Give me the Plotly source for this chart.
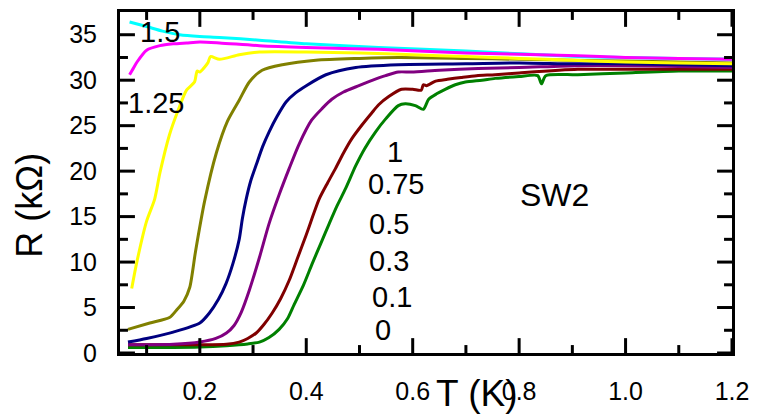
import plotly.graph_objects as go

# ---- data ----
T_0 = [0.065, 0.1, 0.15, 0.2, 0.25, 0.29, 0.312, 0.33, 0.349, 0.365, 0.377, 0.395, 0.411, 0.427, 0.443,
       0.458, 0.474, 0.493, 0.51, 0.53, 0.55, 0.573, 0.586, 0.605, 0.62, 0.63, 0.645, 0.661, 0.68, 0.699,
       0.73, 0.755, 0.8, 0.835, 0.842, 0.85, 0.91, 1.0, 1.1, 1.2]
R_0 = [0.6, 0.6, 0.6, 0.65, 0.8, 1.0, 1.2, 1.7, 2.6, 3.8, 5.3, 7.5, 9.8, 12.0, 14.2,
       16.2, 18.1, 20.6, 22.5, 24.3, 25.8, 27.2, 27.4, 27.2, 26.8, 27.9, 28.5, 29.0, 29.5, 29.8,
       30.0, 30.2, 30.4, 30.5, 29.6, 30.5, 30.6, 30.8, 31.0, 31.0]

T_01 = [0.065, 0.1, 0.15, 0.2, 0.25, 0.274, 0.29, 0.306, 0.32, 0.336, 0.352, 0.368, 0.384, 0.4, 0.412,
        0.424, 0.44, 0.455, 0.47, 0.486, 0.505, 0.523, 0.536, 0.555, 0.579, 0.6, 0.616, 0.62, 0.626,
        0.643, 0.665, 0.691, 0.72, 0.755, 0.8, 0.91, 1.0, 1.1, 1.2]
R_01 = [0.9, 0.9, 0.9, 0.9, 0.95, 1.2, 1.6, 2.2, 3.1, 4.4, 6.0, 8.0, 10.5, 13.0, 15.0,
        16.9, 18.7, 20.3, 22.0, 23.6, 25.1, 26.4, 27.3, 28.2, 29.0, 29.0, 28.9, 29.5, 29.4,
        29.9, 30.1, 30.3, 30.5, 30.6, 30.8, 31.2, 31.2, 31.2, 31.2]

T_03 = [0.065, 0.1, 0.15, 0.2, 0.23, 0.25, 0.264, 0.278, 0.293, 0.312, 0.33, 0.349, 0.368, 0.386, 0.41,
        0.43, 0.448, 0.47, 0.499, 0.525, 0.549, 0.573, 0.598, 0.65, 0.723, 0.8, 0.91, 1.0, 1.1, 1.2]
R_03 = [0.9, 0.9, 0.95, 1.2, 1.6, 2.2, 3.0, 4.5, 6.9, 10.5, 14.2, 17.4, 20.3, 22.9, 25.6,
        26.9, 27.9, 28.7, 29.4, 30.0, 30.5, 30.9, 30.9, 31.1, 31.3, 31.4, 31.6, 31.6, 31.5, 31.4]

T_05 = [0.065, 0.1, 0.15, 0.2, 0.218, 0.235, 0.249, 0.262, 0.274, 0.28, 0.287, 0.296, 0.306, 0.318,
        0.33, 0.345, 0.362, 0.38, 0.4, 0.437, 0.493, 0.573, 0.7, 0.8, 0.9, 1.0, 1.1, 1.2]
R_05 = [1.2, 1.6, 2.3, 3.3, 4.4, 5.9, 7.6, 9.8, 12.5, 14.8, 16.9, 19.0, 20.7, 22.7,
        24.3, 26.0, 27.6, 28.6, 29.4, 30.6, 31.4, 31.7, 31.8, 31.9, 31.8, 31.8, 31.7, 31.6]

T_075 = [0.065, 0.106, 0.143, 0.156, 0.17, 0.181, 0.192, 0.209, 0.231, 0.252, 0.274,
         0.293, 0.317, 0.355, 0.418, 0.5, 0.573, 0.7, 0.8, 0.9, 1.0, 1.1, 1.2]
R_075 = [2.6, 3.3, 3.9, 4.7, 5.7, 7.2, 11.2, 16.7, 22.0, 25.5, 27.8,
         29.8, 31.1, 31.7, 32.2, 32.4, 32.5, 32.4, 32.3, 32.2, 32.1, 32.0, 31.9]

T_1 = [0.072, 0.082, 0.1, 0.115, 0.125, 0.143, 0.158, 0.175, 0.19, 0.195, 0.2, 0.215, 0.22, 0.237,
       0.274, 0.312, 0.4, 0.5, 0.6, 0.7, 0.8, 0.9, 1.0, 1.1, 1.2]
R_1 = [7.1, 10.1, 14.5, 16.9, 19.8, 24.0, 26.5, 28.9, 29.8, 31.0, 30.9, 31.9, 32.6, 32.3,
       32.8, 33.1, 33.1, 33.0, 32.8, 32.6, 32.4, 32.2, 32.0, 31.9, 31.8]

T_125 = [0.068, 0.075, 0.082, 0.1, 0.125, 0.15, 0.175, 0.2, 0.237, 0.312, 0.4, 0.536, 0.7, 0.91,
         1.0, 1.1, 1.2]
R_125 = [30.6, 31.3, 32.0, 33.3, 33.8, 34.0, 34.1, 34.2, 34.1, 33.8, 33.6, 33.4, 33.0, 32.7,
         32.5, 32.4, 32.3]

T_15 = [0.068, 0.1, 0.13, 0.162, 0.2, 0.237, 0.312, 0.4, 0.536, 0.7, 0.91, 1.0, 1.1, 1.2]
R_15 = [36.4, 35.9, 35.4, 35.0, 34.8, 34.7, 34.4, 34.0, 33.6, 33.2, 32.6, 32.5, 32.4, 32.3]

# tick positions (axis values)
x_major = [0.2, 0.4, 0.6, 0.8, 1.0, 1.2]
x_minor = [0.1, 0.3, 0.5, 0.7, 0.9, 1.1]
y_major = [0, 5, 10, 15, 20, 25, 30, 35]
y_minor = [2.5, 7.5, 12.5, 17.5, 22.5, 27.5, 32.5]

series = [
    ("0", T_0, R_0, "#008000"),
    ("0.1", T_01, R_01, "#800000"),
    ("0.3", T_03, R_03, "#800080"),
    ("0.5", T_05, R_05, "#000080"),
    ("0.75", T_075, R_075, "#808000"),
    ("1", T_1, R_1, "#FFFF00"),
    ("1.5", T_15, R_15, "#00FFFF"),
    ("1.25", T_125, R_125, "#FF00FF"),
]

FONT = "Liberation Sans, Arial, sans-serif"
W, H = 758, 416
L, R_, T_, B = 120, 23, 9, 63
PW, PH = W - L - R_, H - B - T_

fig = go.Figure()
for name, t, r, c in series:
    fig.add_trace(go.Scatter(x=t, y=r, mode="lines", name=name,
                             line=dict(color=c, width=3, shape="spline", smoothing=0.7),
                             showlegend=False))

def px2paper(px, py):
    return (px - L) / PW, (H - B - py) / PH

labels = [("1.5", 160, 29), ("1.25", 156, 101), ("1", 396, 150), ("0.75", 397, 183),
          ("0.5", 390, 223), ("0.3", 390, 260), ("0.1", 393, 297), ("0", 384, 330)]
ann = []
for txt, px, py in labels:
    xp, yp = px2paper(px, py)
    ann.append(dict(text=txt, x=xp, y=yp, xref="paper", yref="paper", showarrow=False,
                    xanchor="center", yanchor="middle", font=dict(size=29, color="black", family=FONT)))
xp, yp = px2paper(557, 194)
ann.append(dict(text="SW2", x=xp, y=yp, xref="paper", yref="paper", showarrow=False,
                xanchor="center", yanchor="middle", font=dict(size=32, color="black", family=FONT)))
xp, yp = px2paper(479, 394)
ann.append(dict(text="T (K)", x=xp, y=yp, xref="paper", yref="paper", showarrow=False,
                xanchor="center", yanchor="middle", font=dict(size=37, color="black", family=FONT)))
xp, yp = px2paper(29, 204)
ann.append(dict(text="R (kΩ)", x=xp, y=yp, xref="paper", yref="paper", showarrow=False, textangle=-90,
                xanchor="center", yanchor="middle", font=dict(size=36, color="black", family=FONT)))

# inside ticks on all four sides (positions from the tick lists, lengths in pixels)
MAJ, MIN = 15, 8
tick_line = dict(color="black", width=3)
shapes = []
for vals, ln in ((x_major, MAJ), (x_minor, MIN)):
    f = ln / PH
    for v in vals:
        shapes.append(dict(type="line", xref="x", yref="y domain", x0=v, x1=v, y0=0, y1=f,
                           line=tick_line, layer="above"))
        shapes.append(dict(type="line", xref="x", yref="y domain", x0=v, x1=v, y0=1, y1=1 - f,
                           line=tick_line, layer="above"))
for vals, ln in ((y_major, MAJ), (y_minor, MIN)):
    f = ln / PW
    for v in vals:
        shapes.append(dict(type="line", xref="x domain", yref="y", x0=0, x1=f, y0=v, y1=v,
                           line=tick_line, layer="above"))
        shapes.append(dict(type="line", xref="x domain", yref="y", x0=1, x1=1 - f, y0=v, y1=v,
                           line=tick_line, layer="above"))

fig.update_xaxes(range=[0.05, 1.2], tickvals=x_major, ticktext=[f"{v:.1f}" for v in x_major],
                 showline=True, linecolor="black", linewidth=3, mirror=True,
                 ticks="outside", ticklen=14, tickwidth=1, tickcolor="rgba(0,0,0,0)",
                 showgrid=False, zeroline=False,
                 tickfont=dict(size=25, color="black", family=FONT))
fig.update_yaxes(range=[0, 37.5], tickvals=y_major, ticktext=[str(v) for v in y_major],
                 showline=True, linecolor="black", linewidth=3, mirror=True,
                 ticks="outside", ticklen=15, tickwidth=1, tickcolor="rgba(0,0,0,0)",
                 showgrid=False, zeroline=False,
                 tickfont=dict(size=25, color="black", family=FONT))

fig.update_layout(width=W, height=H, margin=dict(l=L, r=R_, t=T_, b=B),
                  paper_bgcolor="white", plot_bgcolor="white",
                  font=dict(family=FONT, color="black"), annotations=ann, shapes=shapes)

fig.write_html("out.html")
